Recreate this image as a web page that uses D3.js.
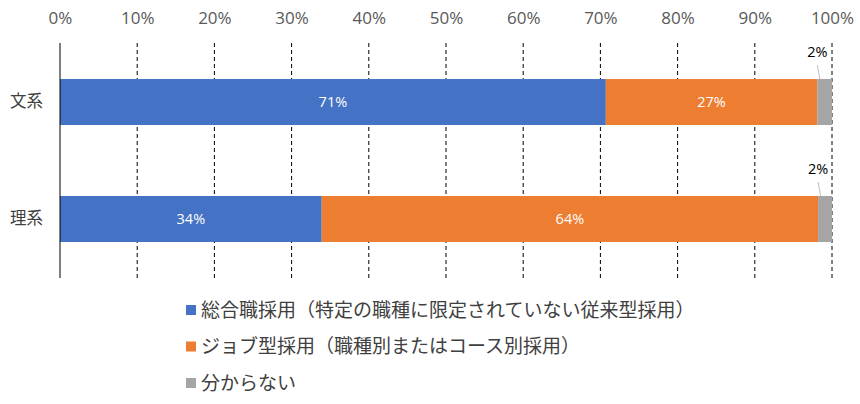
<!DOCTYPE html>
<html>
<head>
<meta charset="utf-8">
<script src="https://cdn.jsdelivr.net/npm/d3@7"></script>
<style>
  body { margin: 0; background: #fff; }
  text { font-family: "Noto Sans CJK JP", "Noto Sans", sans-serif; }
  .num { font-family: "Open Sans", "Noto Sans", sans-serif; }
</style>
</head>
<body>
<div id="chart"></div>
<script>
// data
var categories = ["文系", "理系"]
var seriesNames = ["総合職採用（特定の職種に限定されていない従来型採用）", "ジョブ型採用（職種別またはコース別採用）", "分からない"]
var seriesColors = ["#4472c4", "#ed7d31", "#a5a5a5"]
var sogo = [70.7, 33.9]
var job = [27.4, 64.3]
var wakaranai = [1.9, 1.8]
var tickValues = [0, 10, 20, 30, 40, 50, 60, 70, 80, 90, 100]

var width = 860
var height = 404
var margins = { top: 43, right: 28, left: 60, bottom: 126 }

var svg = d3.select("#chart")
    .append("svg")
    .attr("width", width)
    .attr("height", height)

var xScale = d3.scaleLinear()
    .domain([0, 100])
    .range([margins.left, width - margins.right])
var yScale = d3.scaleBand()
    .domain(categories)
    .range([margins.top, height - margins.bottom])
    .paddingInner(0.607)
    .paddingOuter(0.308)

// gridlines
svg.append("g")
    .selectAll("line")
    .data(tickValues.slice(1))
    .enter()
    .append("line")
    .attr("x1", d => xScale(d))
    .attr("x2", d => xScale(d))
    .attr("y1", margins.top)
    .attr("y2", height - margins.bottom)
    .attr("stroke", "#000")
    .attr("stroke-width", 1)
    .attr("stroke-dasharray", "4,3")

// top axis labels
var xaxis = d3.axisTop(xScale)
    .tickValues(tickValues)
    .tickFormat(d => d + "%")
    .tickSize(0)
    .tickPadding(0)
var gx = svg.append("g")
    .attr("transform", "translate(0, 24)")
    .call(xaxis)
gx.select(".domain").remove()
gx.selectAll("text")
    .attr("class", "num")
    .attr("fill", "#595959")
    .style("font-size", "17px")

// stacked rows
var rows = categories.map((c, i) => ({ cat: c, vals: [sogo[i], job[i], wakaranai[i]] }))
var stackData = []
rows.forEach(r => {
    var x0 = 0
    r.vals.forEach((v, j) => {
        stackData.push({ cat: r.cat, s: j, x0: x0, x1: x0 + v, v: v })
        x0 += v
    })
})

svg.append("g")
    .selectAll("rect")
    .data(stackData)
    .enter()
    .append("rect")
    .attr("x", d => xScale(d.x0))
    .attr("width", d => xScale(d.x1) - xScale(d.x0))
    .attr("y", d => yScale(d.cat))
    .attr("height", yScale.bandwidth())
    .attr("fill", d => seriesColors[d.s])

// labels inside bars
svg.append("g")
    .selectAll("text")
    .data(stackData.filter(d => d.s < 2))
    .enter()
    .append("text")
    .attr("class", "num")
    .attr("x", d => (xScale(d.x0) + xScale(d.x1)) / 2)
    .attr("y", d => yScale(d.cat) + yScale.bandwidth() / 2)
    .attr("dy", "0.35em")
    .attr("text-anchor", "middle")
    .attr("fill", "#fff")
    .style("font-size", "14.5px")
    .text(d => Math.round(d.v) + "%")

// callout labels for small segment
var small = stackData.filter(d => d.s == 2)
svg.append("g")
    .selectAll("line")
    .data(small)
    .enter()
    .append("line")
    .attr("x1", d => xScale(d.x0))
    .attr("y1", d => yScale(d.cat) - 14)
    .attr("x2", d => xScale(d.x0) + 2.5)
    .attr("y2", d => yScale(d.cat))
    .attr("stroke", "#bfbfbf")
    .attr("stroke-width", 1)
svg.append("g")
    .selectAll("text")
    .data(small)
    .enter()
    .append("text")
    .attr("class", "num")
    .attr("x", d => xScale(d.x0))
    .attr("y", d => yScale(d.cat) - 27)
    .attr("dy", "0.35em")
    .attr("text-anchor", "middle")
    .attr("fill", "#000")
    .style("font-size", "14.5px")
    .text(d => Math.round(d.v) + "%")

// left axis
var yaxis = d3.axisLeft(yScale).tickSize(0).tickPadding(17)
var gy = svg.append("g")
    .attr("transform", "translate(" + margins.left + ", 0)")
    .call(yaxis)
gy.select(".domain").remove()
gy.selectAll("text")
    .attr("fill", "#404040")
    .style("font-size", "16.5px")
svg.append("line")
    .attr("x1", margins.left)
    .attr("x2", margins.left)
    .attr("y1", margins.top)
    .attr("y2", height - margins.bottom)
    .attr("stroke", "#000")

// legend
var legend = svg.append("g")
    .selectAll("g")
    .data(seriesNames)
    .enter()
    .append("g")
    .attr("transform", (d, i) => "translate(186, " + (310 + i * 36.5) + ")")
legend.append("rect")
    .attr("x", 0)
    .attr("y", -5)
    .attr("width", 10)
    .attr("height", 10)
    .attr("fill", (d, i) => seriesColors[i])
legend.append("text")
    .attr("x", 15)
    .attr("dy", "0.35em")
    .attr("fill", "#404040")
    .style("font-size", "19px")
    .text(d => d)
</script>
</body>
</html>
